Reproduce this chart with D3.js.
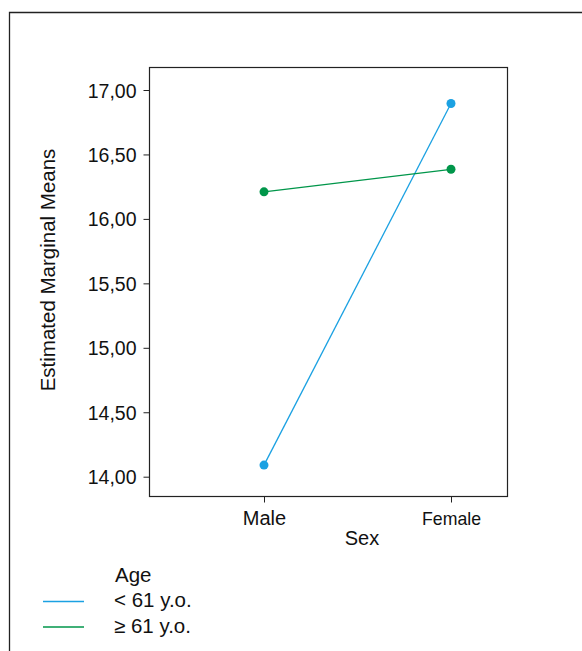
<!DOCTYPE html>
<html><head><meta charset="utf-8">
<script src="https://cdn.jsdelivr.net/npm/d3@7"></script>
<style>body{margin:0;background:#fff}svg{display:block}text{font-family:"Liberation Sans",Arial,sans-serif;fill:#111}</style>
</head><body>
<script>
const categories = ["Male", "Female"];
const seriesNames = ["< 61 y.o.", "\u2265 61 y.o."];
const youngValues = [14.09, 16.895];
const oldValues = [16.21, 16.385];
const yTicks = [14.0, 14.5, 15.0, 15.5, 16.0, 16.5, 17.0];
const colors = ["#1ba1e2", "#00964a"];

const W = 582, H = 651;
const FF = '"Liberation Sans",Arial,sans-serif';
const svg = d3.select("body").append("svg").attr("width", W).attr("height", H);

// outer frame
svg.append("path").attr("d", `M9.5,${H + 5}V12.5H${W + 5}`).attr("fill", "none").attr("stroke", "#222").attr("stroke-width", 1.3);

const L = 149.5, R = 507.5, T = 67.5, B = 496.5;
const y = d3.scaleLinear().domain([14, 17]).range([476.7, 90]);
const x = d3.scalePoint().domain(categories).range([264, 451]);

svg.append("rect").attr("x", L).attr("y", T).attr("width", R - L).attr("height", B - T)
  .attr("fill", "none").attr("stroke", "#222").attr("stroke-width", 1.2);

const fmt = d => d.toFixed(2).replace(".", ",");
const yAxis = svg.append("g").attr("transform", `translate(${L},0)`)
  .call(d3.axisLeft(y).tickValues(yTicks).tickFormat(fmt).tickSize(6).tickPadding(7));
yAxis.select(".domain").remove();
yAxis.selectAll("line").attr("stroke", "#222");
yAxis.selectAll("text").attr("fill", "#111").attr("dy", "0.36em")
  .style("font-family", FF).style("font-size", "19.5px");

const xAxis = svg.append("g").attr("transform", `translate(0,${B})`)
  .call(d3.axisBottom(x).tickSize(6).tickPadding(0));
xAxis.select(".domain").remove();
xAxis.selectAll("line").attr("stroke", "#222");
xAxis.selectAll("text").attr("fill", "#111").attr("dy", null).attr("y", 28.5)
  .style("font-family", FF)
  .style("font-size", d => d === "Male" ? "20px" : "17.7px");

svg.append("text").attr("x", 362).attr("y", 545).attr("text-anchor", "middle").style("font-size", "20px").text("Sex");
svg.append("text").attr("transform", "translate(55,270) rotate(-90)").attr("text-anchor", "middle").style("font-size", "20.5px").text("Estimated Marginal Means");

const series = [youngValues, oldValues];
const line = d3.line().x((d, i) => x(categories[i])).y(d => y(d));
series.forEach((vals, s) => {
  svg.append("path").datum(vals).attr("d", line).attr("fill", "none").attr("stroke", colors[s]).attr("stroke-width", 1.3);
  svg.selectAll(null).data(vals).enter().append("circle")
    .attr("cx", (d, i) => x(categories[i])).attr("cy", d => y(d)).attr("r", 4.5).attr("fill", colors[s]);
});

// legend
svg.append("text").attr("x", 115).attr("y", 581.5).style("font-size", "20.5px").text("Age");
seriesNames.forEach((n, i) => {
  const yy = 601.5 + i * 25.5;
  svg.append("line").attr("x1", 43).attr("x2", 84).attr("y1", yy).attr("y2", yy).attr("stroke", colors[i]).attr("stroke-width", 1.3);
  svg.append("text").attr("x", 114).attr("y", yy + 5.5).style("font-size", "20.5px").text(n);
});
</script>
</body></html>
